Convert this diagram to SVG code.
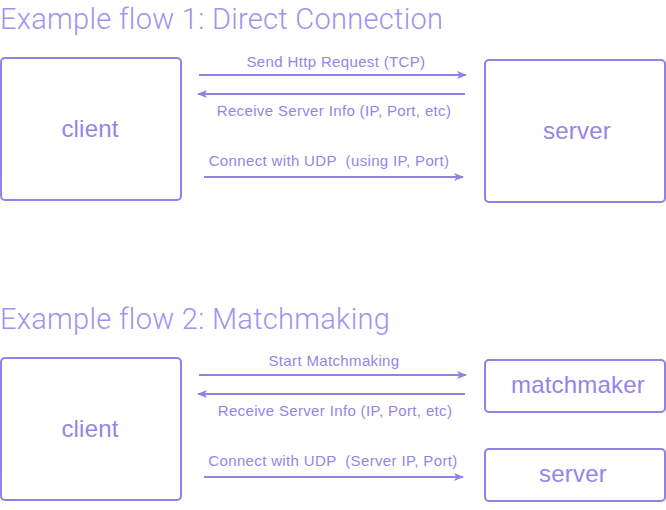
<svg xmlns="http://www.w3.org/2000/svg" width="666" height="510" viewBox="0 0 666 510">
<defs>
<style>
.box{fill:#ffffff;stroke:#9282e8;stroke-width:2}
.title{font-family:Roboto,"Liberation Sans",sans-serif;font-weight:300;font-size:29px;letter-spacing:0.3px;fill:#a192ef}
.node{font-family:"Liberation Sans",Arial,sans-serif;font-size:24px;letter-spacing:0.2px;fill:#9485ea;text-anchor:middle}
.lbl{font-family:"Liberation Sans",Arial,sans-serif;font-size:15px;letter-spacing:0.35px;fill:#9485ea;text-anchor:middle}
.edge{stroke:#9282e8;stroke-width:2;fill:none;marker-end:url(#ah)}
</style>
<marker id="ah" viewBox="0 0 10 8" refX="9" refY="4" markerWidth="5" markerHeight="4" orient="auto" markerUnits="strokeWidth">
<path d="M0,0 L10,4 L0,8 L2.5,4 Z" fill="#9282e8"/>
</marker>
</defs>
<rect width="666" height="510" fill="#ffffff"/>
<text class="title" x="0" y="29">Example flow 1: Direct Connection</text>
<text class="title" x="0" y="329">Example flow 2: Matchmaking</text>
<g id="client1"><rect class="box" x="1" y="58" width="180" height="142" rx="4"/><text class="node" x="90" y="137">client</text></g>
<g id="server1"><rect class="box" x="485" y="60" width="180" height="142" rx="4"/><text class="node" x="577" y="139">server</text></g>
<g id="client2"><rect class="box" x="1" y="358" width="180" height="142" rx="4"/><text class="node" x="90" y="437">client</text></g>
<g id="matchmaker"><rect class="box" x="485" y="360" width="180" height="52" rx="4"/><text class="node" x="578" y="393">matchmaker</text></g>
<g id="server2"><rect class="box" x="485" y="449" width="180" height="52" rx="4"/><text class="node" x="573" y="482">server</text></g>
<g id="connectors">
<line class="edge" x1="199" y1="75" x2="466" y2="75"/>
<line class="edge" x1="465" y1="94" x2="198" y2="94"/>
<line class="edge" x1="204" y1="177" x2="463" y2="177"/>
<line class="edge" x1="199" y1="375" x2="466" y2="375"/>
<line class="edge" x1="465" y1="394" x2="198" y2="394"/>
<line class="edge" x1="204" y1="477" x2="463" y2="477"/>
<text class="lbl" x="336" y="67">Send Http Request (TCP)</text>
<text class="lbl" x="334" y="116">Receive Server Info (IP, Port, etc)</text>
<text class="lbl" x="329" y="166" xml:space="preserve">Connect with UDP  (using IP, Port)</text>
<text class="lbl" x="334" y="366">Start Matchmaking</text>
<text class="lbl" x="335" y="416">Receive Server Info (IP, Port, etc)</text>
<text class="lbl" x="333" y="466" xml:space="preserve">Connect with UDP  (Server IP, Port)</text>
</g>
</svg>
